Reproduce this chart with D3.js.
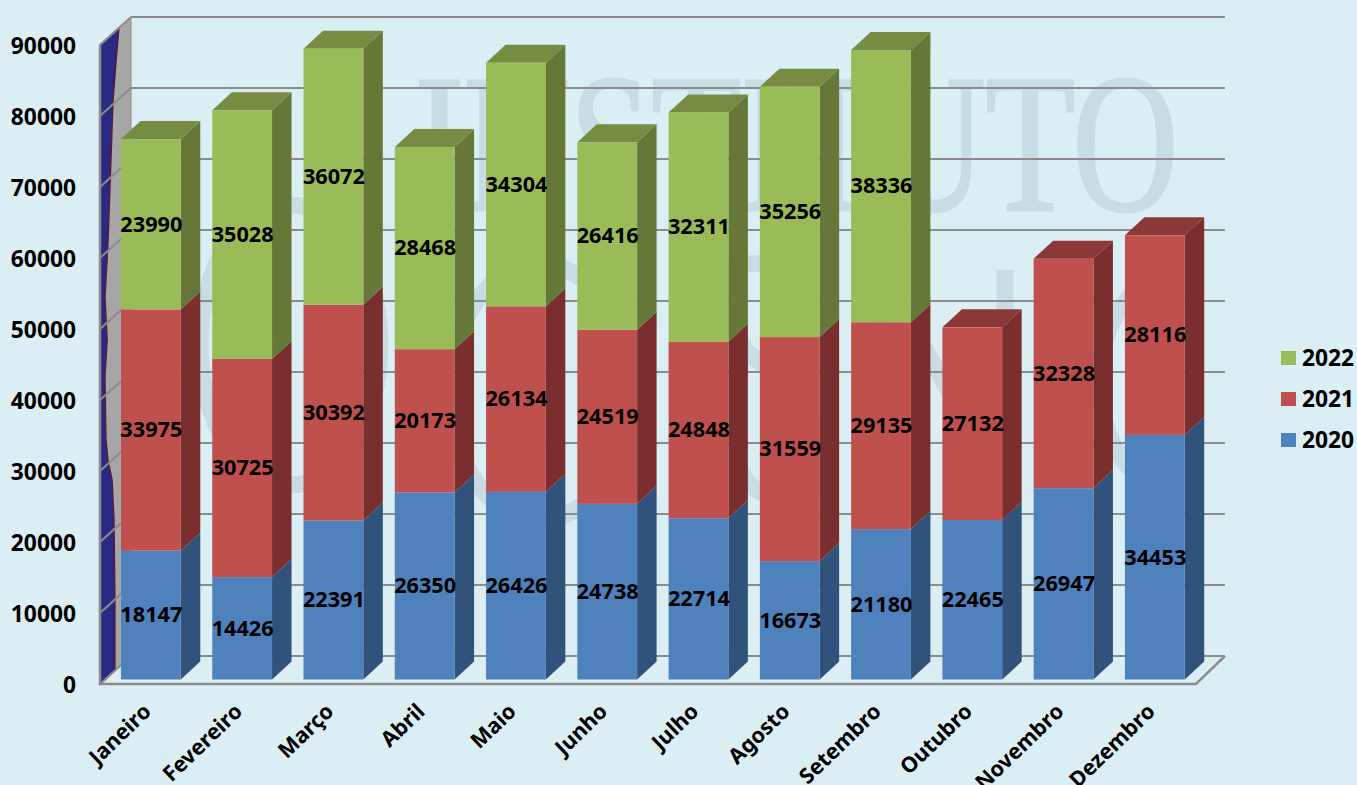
<!DOCTYPE html>
<html><head><meta charset="utf-8">
<script src="https://cdn.jsdelivr.net/npm/d3@7/dist/d3.min.js"></script>
<style>html,body{margin:0;padding:0;background:#DBEEF4;overflow:hidden}svg{display:block}
text{font-family:"Noto Sans",sans-serif;font-weight:700;fill:#000}</style></head>
<body><svg id="c" width="1357" height="785"></svg>
<script>
const months = ["Janeiro","Fevereiro","Março","Abril","Maio","Junho","Julho","Agosto","Setembro","Outubro","Novembro","Dezembro"];
const years = ["2020","2021","2022"];
const v2020 = [18147,14426,22391,26350,26426,24738,22714,16673,21180,22465,26947,34453];
const v2021 = [33975,30725,30392,20173,26134,24519,24848,31559,29135,27132,32328,28116];
const v2022 = [23990,35028,36072,28468,34304,26416,32311,35256,38336,null,null,null];
const yTicks = [0,10000,20000,30000,40000,50000,60000,70000,80000,90000];
// right edge of the decorative blue shape on the side wall: [value, depth fraction]
const wallEdge = [[90000,.61],[85800,.52],[80600,.42],[68700,.32],[61500,.26],[53800,.16],[47600,.23],[42800,.16],[33700,.19],[30300,.26],[27200,.39],[21300,.45],[10000,.48],[0,.48]];

const colors = {
  "2020":{front:"#4F81BD",side:"#31527B",top:"#3A608F"},
  "2021":{front:"#C0504D",side:"#7A2F2E",top:"#8C3836"},
  "2022":{front:"#9BBB59",side:"#667838",top:"#768C43"}
};
const svg = d3.select("#c");
const y = d3.scaleLinear().domain([0,90000]).range([679.5,40.5]);
const x = d3.scaleBand().domain(months).range([89.5,1216.2]).padding(0.345);
const dx = 19.5, dy = -18;           // bar depth
const frontY = v => y(v)+4.5;        // axis plane
const backY  = v => y(v)-23.5;       // back wall
const wallL = 100, wallR = 131, floorR = 1196, backR = 1225;
const poly = pts => pts.map(p=>p.join(",")).join(" ");

// watermark
const wm = svg.append("g").attr("fill","none").attr("stroke","#C9DCE4").attr("stroke-width",17);
wm.append("text").attr("transform","translate(415,210) scale(0.745,1)")
  .style("font-family","'Liberation Serif',serif").style("font-weight","400").style("font-size","197px")
  .style("fill","#C9DCE4").attr("stroke","#C9DCE4").attr("stroke-width",3).text("INSTITUTO");
wm.append("ellipse").attr("cx",290).attr("cy",345).attr("rx",90).attr("ry",140);
wm.append("ellipse").attr("cx",540).attr("cy",392).attr("rx",90).attr("ry",128);
wm.append("path").attr("d","M790 270 Q 690 240 745 350 Q 860 440 810 490 Q 760 510 740 470");
wm.append("path").attr("d","M880 490 L 880 270 L 1005 490 L 1005 270");
wm.append("path").attr("d","M1170 270 Q 1100 300 1100 380 Q 1100 470 1170 490");

// walls
svg.append("polygon").attr("fill","#A6A6A6")
  .attr("points",poly([[wallL,frontY(90000)],[wallR,backY(90000)],[wallR,backY(0)],[wallL,frontY(0)]]));
const edgePts = wallEdge.map(([v,t])=>[wallL+(wallR-wallL)*t, frontY(v)-28*t]);
svg.append("polygon").attr("fill","#2A2A84").attr("stroke","#5A1A3A").attr("stroke-width",1.5)
  .attr("points",poly([[wallL,frontY(90000)],...edgePts,[wallL,frontY(0)]]));

// gridlines
const gridColor = "#8C8C8C";
svg.append("g").selectAll("line").data(yTicks).join("line")
  .attr("x1",wallR).attr("x2",backR).attr("y1",backY).attr("y2",backY)
  .attr("stroke",gridColor).attr("stroke-width",2);
svg.append("g").selectAll("line").data(yTicks).join("line")
  .attr("x1",wallL).attr("x2",wallR).attr("y1",frontY).attr("y2",backY)
  .attr("stroke",gridColor).attr("stroke-width",2);
// frame
svg.append("polyline").attr("fill","none").attr("stroke",gridColor).attr("stroke-width",2.5)
  .attr("points",poly([[wallL,frontY(90000)],[wallL,frontY(0)],[floorR,frontY(0)],[backR,backY(0)]]));
svg.append("line").attr("x1",wallR).attr("x2",wallR).attr("y1",backY(90000)).attr("y2",backY(0)).attr("stroke",gridColor).attr("stroke-width",1);

// bars
const series = [v2020,v2021,v2022];
const segs = months.map((m,i)=>{
  let acc=0; const out=[];
  series.forEach((s,k)=>{ if(s[i]==null) return; out.push({m,year:years[k],val:s[i],y0:acc,y1:acc+s[i]}); acc+=s[i]; });
  out[out.length-1].last=true;
  return out;
});
const all = segs.flat();
const w = x.bandwidth();
const bars = svg.append("g").selectAll("g").data(all).join("g");
bars.append("polygon").attr("fill",d=>colors[d.year].side)
  .attr("points",d=>{const r=x(d.m)+w;return poly([[r,y(d.y0)],[r+dx,y(d.y0)+dy],[r+dx,y(d.y1)+dy],[r,y(d.y1)]]);});
bars.filter(d=>d.last).append("polygon").attr("fill",d=>colors[d.year].top)
  .attr("points",d=>{const l=x(d.m),t=y(d.y1);return poly([[l,t],[l+dx,t+dy],[l+w+dx,t+dy],[l+w,t]]);});
bars.append("rect").attr("fill",d=>colors[d.year].front)
  .attr("x",d=>x(d.m)).attr("width",w).attr("y",d=>y(d.y1)).attr("height",d=>y(d.y0)-y(d.y1));

// value labels
svg.append("g").selectAll("text").data(all).join("text")
  .attr("x",d=>x(d.m)+w/2+0.5).attr("y",d=>y((d.y0+d.y1)/2)-0.5).attr("dy","0.36em")
  .attr("text-anchor","middle").style("font-size","21.7px").text(d=>d.val);

// y axis
svg.append("g").selectAll("text").data(yTicks).join("text")
  .attr("x",76).attr("y",d=>frontY(d)+0.5).attr("dy","0.36em").attr("text-anchor","end")
  .style("font-size","22.8px").text(d=>d);

// x axis
svg.append("g").selectAll("text").data(months).join("text")
  .attr("transform",d=>`translate(${x(d)+w/2+1.5},${frontY(0)+29}) rotate(-44)`)
  .attr("text-anchor","end").style("font-size","21.5px").text(d=>d);

// legend
const legendY = d3.scalePoint().domain(["2022","2021","2020"]).range([358,440]);
const lg = svg.append("g").selectAll("g").data(legendY.domain()).join("g")
  .attr("transform",d=>`translate(1281,${legendY(d)})`);
lg.append("rect").attr("y",-7).attr("width",15).attr("height",14).attr("fill",d=>colors[d].front);
lg.append("text").attr("x",21).attr("dy","0.36em").style("font-size","22.8px").text(d=>d);
</script></body></html>
